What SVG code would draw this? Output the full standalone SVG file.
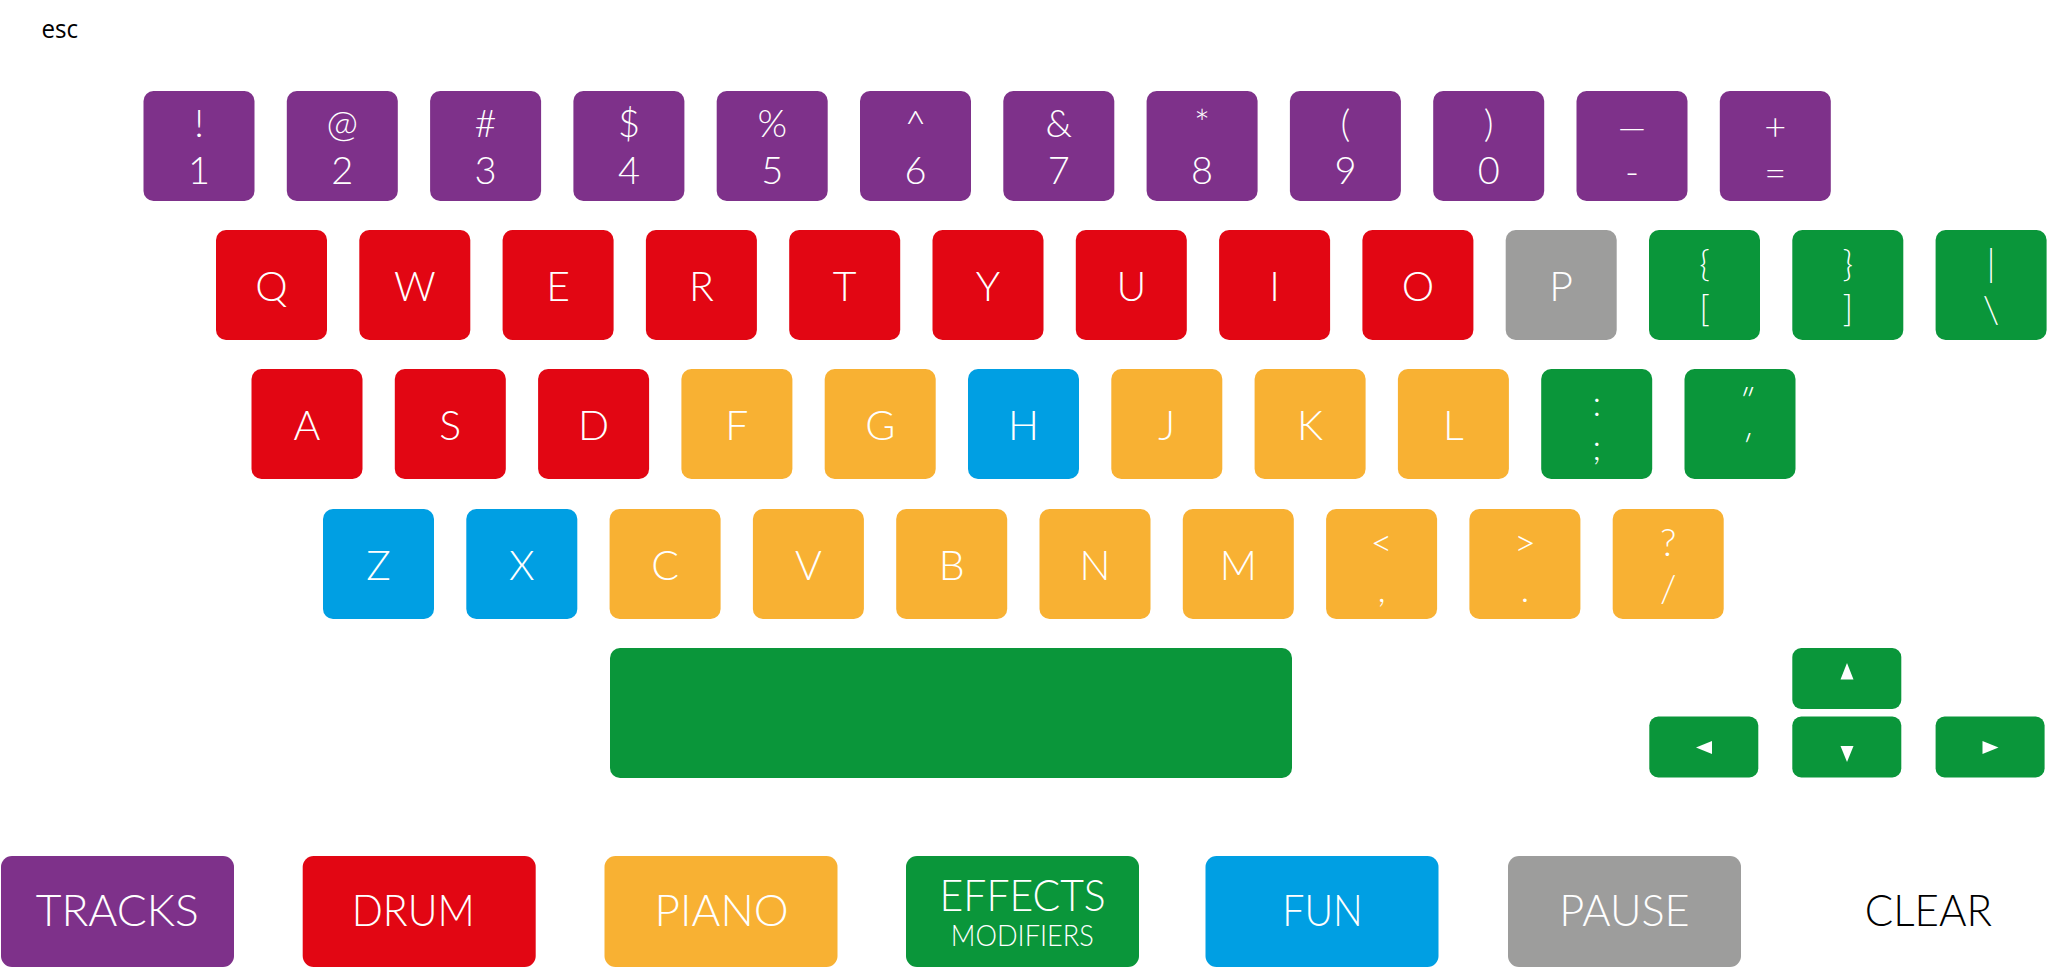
<svg xmlns="http://www.w3.org/2000/svg" width="2048" height="968" viewBox="0 0 2048 968">
<style>
  .k{stroke:none}
  .pu{fill:#7E318A}
  .rd{fill:#E20613}
  .or{fill:#F8B133}
  .bl{fill:#009FE3}
  .gn{fill:#0A963A}
  .gy{fill:#9D9D9C}
  .t{font-family:Lato,"Open Sans","Liberation Sans",sans-serif;font-weight:300;font-size:41px;fill:#fff;text-anchor:middle}
  .d{font-family:Lato,"Open Sans","Liberation Sans",sans-serif;font-weight:300;font-size:38px;fill:#fff;text-anchor:middle}
  .s{font-family:Lato,"Open Sans","Liberation Sans",sans-serif;font-weight:300;font-size:36px;fill:#fff;text-anchor:middle}
  .b{font-family:Lato,"Open Sans","Liberation Sans",sans-serif;font-weight:300;font-size:44px;fill:#fff;text-anchor:middle}
  .m{font-family:Lato,"Open Sans","Liberation Sans",sans-serif;font-weight:300;font-size:29px;fill:#fff;text-anchor:middle}
  .esc{font-family:"Open Sans","Liberation Sans",sans-serif;font-size:26px;fill:#000}
  .tri{fill:#fff}
</style>
<g id="esc"><text class="esc" x="41.5" y="38.3" textLength="36.6" lengthAdjust="spacingAndGlyphs">esc</text></g>

<g id="row1">
  <g id="key-1"><rect class="k pu" x="143.5" y="91" width="111" height="110" rx="10"/><text class="d" x="199" y="137">!</text><text class="d" x="199" y="184">1</text></g>
  <g id="key-2"><rect class="k pu" x="286.8" y="91" width="111" height="110" rx="10"/><text class="d" x="342.3" y="137">@</text><text class="d" x="342.3" y="184">2</text></g>
  <g id="key-3"><rect class="k pu" x="430.1" y="91" width="111" height="110" rx="10"/><text class="d" x="485.6" y="137">#</text><text class="d" x="485.6" y="184">3</text></g>
  <g id="key-4"><rect class="k pu" x="573.4" y="91" width="111" height="110" rx="10"/><text class="d" x="628.9" y="137">$</text><text class="d" x="628.9" y="184">4</text></g>
  <g id="key-5"><rect class="k pu" x="716.7" y="91" width="111" height="110" rx="10"/><text class="d" x="772.2" y="137">%</text><text class="d" x="772.2" y="184">5</text></g>
  <g id="key-6"><rect class="k pu" x="860" y="91" width="111" height="110" rx="10"/><text class="d" x="915.5" y="137">^</text><text class="d" x="915.5" y="184">6</text></g>
  <g id="key-7"><rect class="k pu" x="1003.3" y="91" width="111" height="110" rx="10"/><text class="d" x="1058.8" y="137">&amp;</text><text class="d" x="1058.8" y="184">7</text></g>
  <g id="key-8"><rect class="k pu" x="1146.6" y="91" width="111" height="110" rx="10"/><text class="d" x="1202.1" y="137">*</text><text class="d" x="1202.1" y="184">8</text></g>
  <g id="key-9"><rect class="k pu" x="1289.9" y="91" width="111" height="110" rx="10"/><text class="d" x="1345.4" y="137">(</text><text class="d" x="1345.4" y="184">9</text></g>
  <g id="key-0"><rect class="k pu" x="1433.2" y="91" width="111" height="110" rx="10"/><text class="d" x="1488.7" y="137">)</text><text class="d" x="1488.7" y="184">0</text></g>
  <g id="key-minus"><rect class="k pu" x="1576.5" y="91" width="111" height="110" rx="10"/><text class="s" x="1632" y="140">—</text><text class="d" x="1632" y="185">-</text></g>
  <g id="key-equal"><rect class="k pu" x="1719.8" y="91" width="111" height="110" rx="10"/><text class="d" x="1775.3" y="140">+</text><text class="d" x="1775.3" y="186">=</text></g>
</g>

<g id="row2">
  <g id="key-q"><rect class="k rd" x="216" y="230" width="111" height="110" rx="10"/><text class="t" x="271.5" y="301">Q</text></g>
  <g id="key-w"><rect class="k rd" x="359.3" y="230" width="111" height="110" rx="10"/><text class="t" x="414.8" y="301">W</text></g>
  <g id="key-e"><rect class="k rd" x="502.6" y="230" width="111" height="110" rx="10"/><text class="t" x="558.1" y="301">E</text></g>
  <g id="key-r"><rect class="k rd" x="645.9" y="230" width="111" height="110" rx="10"/><text class="t" x="701.4" y="301">R</text></g>
  <g id="key-t"><rect class="k rd" x="789.2" y="230" width="111" height="110" rx="10"/><text class="t" x="844.7" y="301">T</text></g>
  <g id="key-y"><rect class="k rd" x="932.5" y="230" width="111" height="110" rx="10"/><text class="t" x="988" y="301">Y</text></g>
  <g id="key-u"><rect class="k rd" x="1075.8" y="230" width="111" height="110" rx="10"/><text class="t" x="1131.3" y="301">U</text></g>
  <g id="key-i"><rect class="k rd" x="1219.1" y="230" width="111" height="110" rx="10"/><text class="t" x="1274.6" y="301">I</text></g>
  <g id="key-o"><rect class="k rd" x="1362.4" y="230" width="111" height="110" rx="10"/><text class="t" x="1417.9" y="301">O</text></g>
  <g id="key-p"><rect class="k gy" x="1505.7" y="230" width="111" height="110" rx="10"/><text class="t" x="1561.2" y="301">P</text></g>
  <g id="key-lbrace"><rect class="k gn" x="1649" y="230" width="111" height="110" rx="10"/><text class="s" x="1704.5" y="276">{</text><text class="s" x="1704.5" y="321">[</text></g>
  <g id="key-rbrace"><rect class="k gn" x="1792.3" y="230" width="111" height="110" rx="10"/><text class="s" x="1847.8" y="276">}</text><text class="s" x="1847.8" y="321">]</text></g>
  <g id="key-pipe"><rect class="k gn" x="1935.6" y="230" width="111" height="110" rx="10"/><text class="d" x="1991.1" y="276">|</text><text class="d" x="1991.1" y="323">\</text></g>
</g>

<g id="row3">
  <g id="key-a"><rect class="k rd" x="251.5" y="369" width="111" height="110" rx="10"/><text class="t" x="307" y="440">A</text></g>
  <g id="key-s"><rect class="k rd" x="394.8" y="369" width="111" height="110" rx="10"/><text class="t" x="450.3" y="440">S</text></g>
  <g id="key-d"><rect class="k rd" x="538.1" y="369" width="111" height="110" rx="10"/><text class="t" x="593.6" y="440">D</text></g>
  <g id="key-f"><rect class="k or" x="681.4" y="369" width="111" height="110" rx="10"/><text class="t" x="736.9" y="440">F</text></g>
  <g id="key-g"><rect class="k or" x="824.7" y="369" width="111" height="110" rx="10"/><text class="t" x="880.2" y="440">G</text></g>
  <g id="key-h"><rect class="k bl" x="968" y="369" width="111" height="110" rx="10"/><text class="t" x="1023.5" y="440">H</text></g>
  <g id="key-j"><rect class="k or" x="1111.3" y="369" width="111" height="110" rx="10"/><text class="t" x="1166.8" y="440">J</text></g>
  <g id="key-k"><rect class="k or" x="1254.6" y="369" width="111" height="110" rx="10"/><text class="t" x="1310.1" y="440">K</text></g>
  <g id="key-l"><rect class="k or" x="1397.9" y="369" width="111" height="110" rx="10"/><text class="t" x="1453.4" y="440">L</text></g>
  <g id="key-semicolon"><rect class="k gn" x="1541.2" y="369" width="111" height="110" rx="10"/><text class="s" x="1596.7" y="416">:</text><text class="s" x="1596.7" y="460">;</text></g>
  <g id="key-quote"><rect class="k gn" x="1684.5" y="369" width="111" height="110" rx="10"/><text class="d" transform="translate(1740,414) skewX(-20)" x="0" y="0">"</text><text class="d" transform="translate(1740,460) skewX(-20)" x="0" y="0">'</text></g>
</g>

<g id="row4">
  <g id="key-z"><rect class="k bl" x="323" y="509" width="111" height="110" rx="10"/><text class="t" x="378.5" y="579.5">Z</text></g>
  <g id="key-x"><rect class="k bl" x="466.3" y="509" width="111" height="110" rx="10"/><text class="t" x="521.8" y="579.5">X</text></g>
  <g id="key-c"><rect class="k or" x="609.6" y="509" width="111" height="110" rx="10"/><text class="t" x="665.1" y="579.5">C</text></g>
  <g id="key-v"><rect class="k or" x="752.9" y="509" width="111" height="110" rx="10"/><text class="t" x="808.4" y="579.5">V</text></g>
  <g id="key-b"><rect class="k or" x="896.2" y="509" width="111" height="110" rx="10"/><text class="t" x="951.7" y="579.5">B</text></g>
  <g id="key-n"><rect class="k or" x="1039.5" y="509" width="111" height="110" rx="10"/><text class="t" x="1095" y="579.5">N</text></g>
  <g id="key-m"><rect class="k or" x="1182.8" y="509" width="111" height="110" rx="10"/><text class="t" x="1238.3" y="579.5">M</text></g>
  <g id="key-comma"><rect class="k or" x="1326.1" y="509" width="111" height="110" rx="10"/><text class="d" x="1381.6" y="556">&lt;</text><text class="d" x="1381.6" y="602">,</text></g>
  <g id="key-period"><rect class="k or" x="1469.4" y="509" width="111" height="110" rx="10"/><text class="d" x="1524.9" y="556">&gt;</text><text class="d" x="1524.9" y="602">.</text></g>
  <g id="key-slash"><rect class="k or" x="1612.7" y="509" width="111" height="110" rx="10"/><text class="d" x="1668.2" y="556">?</text><text class="d" x="1668.2" y="602">/</text></g>
</g>

<g id="key-space"><rect class="k gn" x="610" y="648" width="682" height="130" rx="10"/></g>

<g id="arrows">
  <g id="key-up"><rect class="k gn" x="1792.3" y="648" width="109" height="61" rx="9"/><polygon class="tri" points="1847,663 1853.5,679.5 1840.5,679.5"/></g>
  <g id="key-left"><rect class="k gn" x="1649.3" y="716.5" width="109" height="61" rx="9"/><polygon class="tri" points="1696,747.5 1712,741 1712,754"/></g>
  <g id="key-down"><rect class="k gn" x="1792.3" y="716.5" width="109" height="61" rx="9"/><polygon class="tri" points="1840.5,746 1853.5,746 1847,762"/></g>
  <g id="key-right"><rect class="k gn" x="1935.6" y="716.5" width="109" height="61" rx="9"/><polygon class="tri" points="1998.5,747.5 1982.5,741 1982.5,754"/></g>
</g>

<g id="legend">
  <g id="btn-tracks"><rect class="k pu" x="1" y="856" width="233" height="111" rx="11"/><text class="b" x="117.2" y="925.5" textLength="163" lengthAdjust="spacingAndGlyphs">TRACKS</text></g>
  <g id="btn-drum"><rect class="k rd" x="302.7" y="856" width="233" height="111" rx="11"/><text class="b" x="413.2" y="925.5" textLength="123" lengthAdjust="spacingAndGlyphs">DRUM</text></g>
  <g id="btn-piano"><rect class="k or" x="604.5" y="856" width="233" height="111" rx="11"/><text class="b" x="721.6" y="925.5" textLength="134" lengthAdjust="spacingAndGlyphs">PIANO</text></g>
  <g id="btn-effects"><rect class="k gn" x="906" y="856" width="233" height="111" rx="11"/><text class="b" x="1022.6" y="911" font-size="42" textLength="166" lengthAdjust="spacingAndGlyphs">EFFECTS</text><text class="m" x="1022.3" y="946" textLength="143" lengthAdjust="spacingAndGlyphs">MODIFIERS</text></g>
  <g id="btn-fun"><rect class="k bl" x="1205.5" y="856" width="233" height="111" rx="11"/><text class="b" x="1322.5" y="925.5" textLength="80.5" lengthAdjust="spacingAndGlyphs">FUN</text></g>
  <g id="btn-pause"><rect class="k gy" x="1508" y="856" width="233" height="111" rx="11"/><text class="b" x="1624.5" y="925.5" textLength="130.4" lengthAdjust="spacingAndGlyphs">PAUSE</text></g>
  <g id="btn-clear"><text class="b" x="1928.4" y="925.5" style="fill:#000" textLength="127.3" lengthAdjust="spacingAndGlyphs">CLEAR</text></g>
</g>
</svg>
